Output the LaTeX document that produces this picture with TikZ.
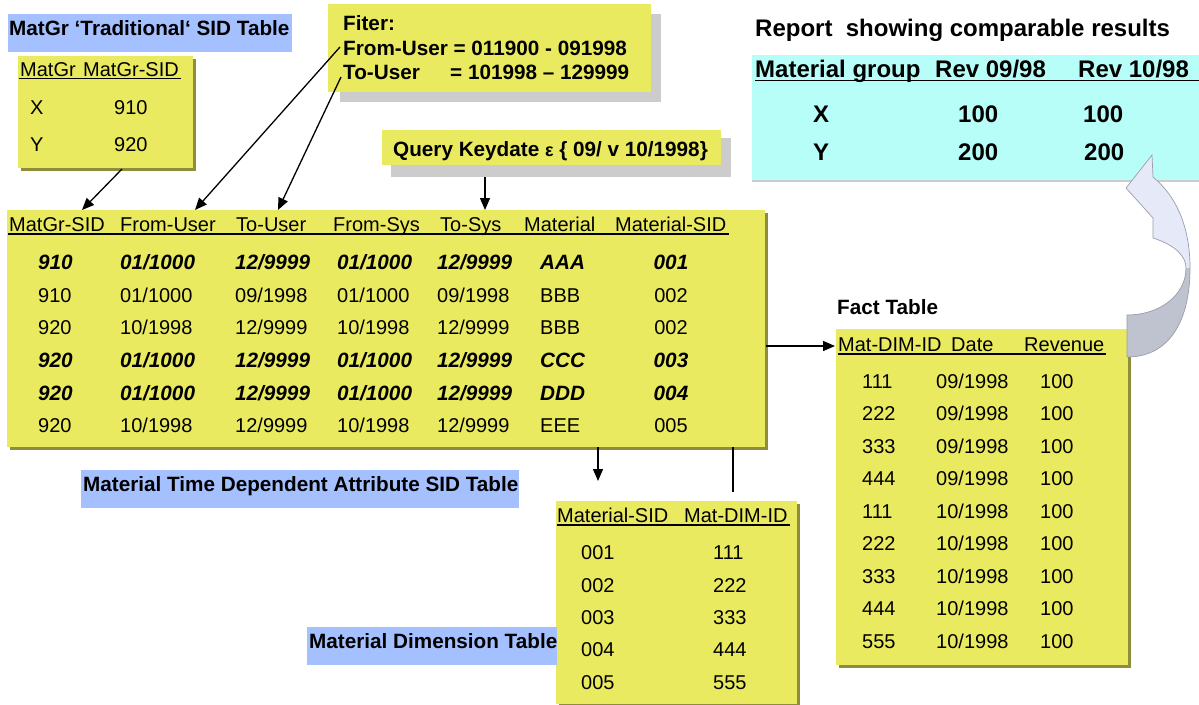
\documentclass[tikz,border=0pt]{standalone}
\usepackage{fontspec}
\setmainfont{Liberation Sans}
\usetikzlibrary{arrows.meta}
\definecolor{ylw}{HTML}{EAEA60}
\definecolor{olivesh}{HTML}{8E8E3A}
\definecolor{lblue}{HTML}{A4C0FF}
\definecolor{cyanbg}{HTML}{B8FEF8}
\definecolor{gshadow}{HTML}{CCCCCC}
\definecolor{lav}{HTML}{E6E9F8}
\definecolor{lavdark}{HTML}{BFC3D0}
\definecolor{lavedge}{HTML}{9A9EAA}
\newcommand\fsz{\fontsize{20}{24}\selectfont}
\newcommand\fszb{\fontsize{20.7}{24}\selectfont\bfseries}
\newcommand\mainrow[9]{%
  \node[tx,font=#2] (m#1a) at (38,#1) {#3};
  \node[tx,font=#2] (m#1b) at (120,#1) {#4};
  \node[tx,font=#2] (m#1c) at (235,#1) {#5};
  \node[tx,font=#2] (m#1d) at (337,#1) {#6};
  \node[tx,font=#2] (m#1e) at (437,#1) {#7};
  \node[tx,font=#2] (m#1f) at (540,#1) {#8};
  \node[tx,font=#2,anchor=base] (m#1g) at (671,#1) {#9};
}
\newcommand\factrow[3]{%
  \node[tx] (f#1a) at (862,#1) {#2};
  \node[tx] (f#1b) at (936,#1) {#3};
  \node[tx] (f#1c) at (1040,#1) {100};
}
\newcommand\dimrow[3]{%
  \node[tx] (d#1a) at (581,#1) {#2};
  \node[tx] (d#1b) at (713,#1) {#3};
}
\begin{document}
\begin{tikzpicture}[x=1pt,y=-1pt,
  tx/.style={anchor=base west,inner sep=0pt,font=\fsz},
  txb/.style={tx,font=\fszb},
  txr/.style={tx,font=\fontsize{24}{28}\selectfont\bfseries},
  conn/.style={line width=1.3pt,-{Triangle[length=12pt,width=10pt]}},
  plainline/.style={line width=1.3pt},
  uline/.style={line width=1.2pt},
  carrow/.style={insert path={(1152,155) -- (1126,188) -- (1153,218) -- (1153,238)
     .. controls (1175,245) and (1186,256) .. (1186,268)
     .. controls (1186,295) and (1160,315) .. (1127,315) -- (1127,357)
     .. controls (1170,357) and (1190,320) .. (1190,268)
     .. controls (1190,225) and (1175,195) .. (1153,177) -- cycle}}]
\useasboundingbox (0,0) rectangle (1199,704);
\fill[white] (0,0) rectangle (1199,704);

% ---------- MatGr traditional SID table
\fill[lblue] (8,14) rectangle (292,52);
\node[txb] (lblMatGr) at (9,35) {MatGr ‘Traditional‘ SID Table};
\fill[olivesh] (21,59) rectangle (196,171);
\fill[ylw] (18,56) rectangle (193,168);
\node[tx] (hMatGr) at (20,76) {MatGr};
\node[tx] (hMatGrSID) at (83,76) {MatGr-SID};
\draw[uline] (19,78.5) -- (181,78.5);
\node[tx] (mgX) at (30,114) {X};
\node[tx] (mg910) at (114,114) {910};
\node[tx] (mgY) at (30,151) {Y};
\node[tx] (mg920) at (114,151) {920};

% ---------- Filter box
\fill[gshadow] (340,14) rectangle (661,102);
\fill[ylw] (328,4) rectangle (651,92);
\node[txb] (fiter) at (343,30) {Fiter:};
\node[txb] (fFrom) at (343,55) {From-User = 011900 - 091998};
\node[txb] (fTo) at (343,79) {To-User};
\node[txb] (fToV) at (450,79) {= 101998 – 129999};

% ---------- Query keydate
\fill[gshadow] (391,138) rectangle (731,177);
\fill[ylw] (382,130) rectangle (721,165);
\node[txb] (query) at (393,156) {Query Keydate {\fontsize{18}{20}\selectfont ε} \{ 09/ v 10/1998\}};

% ---------- Report
\node[txr] (repTitle) at (755,36) {Report\ \ showing comparable results};
\fill[gshadow] (752,180) rectangle (1199,182);
\fill[cyanbg] (752,55) rectangle (1199,180);
\node[txr] (rh1) at (755,77) {Material group};
\node[txr] (rh2) at (935,77) {Rev 09/98};
\node[txr] (rh3) at (1078,77) {Rev 10/98};
\draw[line width=1.4pt] (755,80.5) -- (1199,80.5);
\node[txr] (rX) at (813,122) {X};
\node[txr] (rX1) at (958,122) {100};
\node[txr] (rX2) at (1083,122) {100};
\node[txr] (rY) at (813,160) {Y};
\node[txr] (rY1) at (958,160) {200};
\node[txr] (rY2) at (1084,160) {200};

% ---------- Main table
\fill[olivesh] (10,213) rectangle (768,450);
\fill[ylw] (7,210) rectangle (765,447);
\node[tx] (h1) at (9,231) {MatGr-SID};
\node[tx] (h2) at (120,231) {From-User};
\node[tx] (h3) at (236,231) {To-User};
\node[tx] (h4) at (333,231) {From-Sys};
\node[tx] (h5) at (440,231) {To-Sys};
\node[tx] (h6) at (524,231) {Material};
\node[tx] (h7) at (615,231) {Material-SID};
\draw[uline] (8,234) -- (729,234);
\mainrow{269}{\fszb\itshape}{910}{01/1000}{12/9999}{01/1000}{12/9999}{AAA}{001}
\mainrow{302}{\fsz}{910}{01/1000}{09/1998}{01/1000}{09/1998}{BBB}{002}
\mainrow{334}{\fsz}{920}{10/1998}{12/9999}{10/1998}{12/9999}{BBB}{002}
\mainrow{367}{\fszb\itshape}{920}{01/1000}{12/9999}{01/1000}{12/9999}{CCC}{003}
\mainrow{400}{\fszb\itshape}{920}{01/1000}{12/9999}{01/1000}{12/9999}{DDD}{004}
\mainrow{432}{\fsz}{920}{10/1998}{12/9999}{10/1998}{12/9999}{EEE}{005}

\fill[lblue] (81,470) rectangle (519,508);
\node[txb] (lblMain) at (83,491) {Material Time Dependent Attribute SID Table};

% ---------- Dimension table
\fill[olivesh] (559,504) rectangle (800,707);
\fill[ylw] (556,501) rectangle (797,704);
\node[tx] (dh1) at (557,522) {Material-SID};
\node[tx] (dh2) at (684,522) {Mat-DIM-ID};
\draw[uline] (557,525) -- (790,525);
\dimrow{559}{001}{111}
\dimrow{592}{002}{222}
\dimrow{624}{003}{333}
\dimrow{656}{004}{444}
\dimrow{689}{005}{555}
\fill[lblue] (307,627) rectangle (557,665);
\node[txb] (lblDim) at (309,648) {Material Dimension Table};

% ---------- Fact table
\node[txb] (lblFact) at (837,314) {Fact Table};
\fill[olivesh] (839,332) rectangle (1131,668);
\fill[ylw] (836,329) rectangle (1128,665);
\node[tx] (fh1) at (838,351) {Mat-DIM-ID};
\node[tx] (fh2) at (951,351) {Date};
\node[tx] (fh3) at (1024,351) {Revenue};
\draw[uline] (838,354) -- (1106,354);
\factrow{388}{111}{09/1998}
\factrow{420}{222}{09/1998}
\factrow{453}{333}{09/1998}
\factrow{485}{444}{09/1998}
\factrow{518}{111}{10/1998}
\factrow{550}{222}{10/1998}
\factrow{583}{333}{10/1998}
\factrow{615}{444}{10/1998}
\factrow{648}{555}{10/1998}

% ---------- curved arrow
\fill[lav,carrow];
\begin{scope}
  \clip[carrow];
  \fill[lavdark] (1100,268) rectangle (1199,370);
\end{scope}
\draw[lavedge,line width=0.7pt,carrow];

% ---------- connectors
\coordinate (mgOut) at (122,169);
\coordinate (mIn1) at (82,210);
\coordinate (fFromOut) at (340,47);
\coordinate (mIn2) at (195,210);
\coordinate (fToOut) at (341,77);
\coordinate (mIn3) at (278,210);
\coordinate (qOut) at (485,177);
\coordinate (mIn4) at (485,210);
\coordinate (mOutR) at (766,346);
\coordinate (fIn) at (835,346);
\coordinate (mOutB) at (598,447);
\coordinate (dIn) at (598,481);
\coordinate (mOutB2) at (733,447);
\coordinate (lineEnd) at (733,492);
\draw[conn] (mgOut) -- (mIn1);
\draw[conn] (fFromOut) -- (mIn2);
\draw[conn] (fToOut) -- (mIn3);
\draw[conn] (qOut) -- (mIn4);
\draw[conn] (mOutR) -- (fIn);
\draw[conn] (mOutB) -- (dIn);
\draw[plainline] (mOutB2) -- (lineEnd);
\end{tikzpicture}
\end{document}
